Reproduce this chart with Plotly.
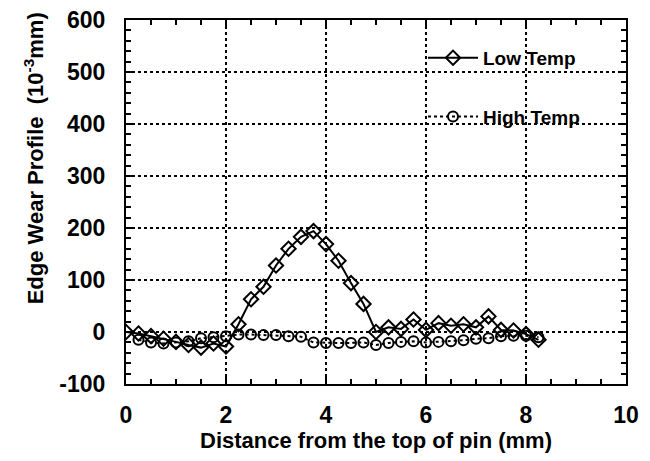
import plotly.graph_objects as go

x_low = [0, 0.25, 0.5, 0.75, 1.0, 1.25, 1.5, 1.75, 2.0, 2.25, 2.5, 2.75, 3.0, 3.25, 3.5, 3.75,
         4.0, 4.25, 4.5, 4.75, 5.0, 5.25, 5.5, 5.75, 6.0, 6.25, 6.5, 6.75, 7.0, 7.25, 7.5, 7.75,
         8.0, 8.25]
y_low = [0, -3, -8, -13, -19, -25, -30, -22, -28, 15, 63, 87, 128, 160, 183, 194,
         169, 137, 94, 54, 0, 9, 6, 24, 4, 17, 12, 15, 9, 30, 4, 3,
         -4, -15]

x_high = [0.25, 0.5, 0.75, 1.0, 1.25, 1.5, 1.75, 2.0, 2.25, 2.5, 2.75, 3.0, 3.25, 3.5, 3.75,
          4.0, 4.25, 4.5, 4.75, 5.0, 5.25, 5.5, 5.75, 6.0, 6.25, 6.5, 6.75, 7.0, 7.25, 7.5, 7.75,
          8.0, 8.25]
y_high = [-15, -20, -22, -20, -18, -12, -10, -8, -5, -5, -6, -6, -8, -9, -20,
          -21, -21, -21, -20, -25, -21, -19, -18, -20, -19, -18, -16, -13, -12, -8, -7,
          -7, -10]

x_ticks = [0, 2, 4, 6, 8, 10]
y_ticks = [-100, 0, 100, 200, 300, 400, 500, 600]

FONT = "Liberation Sans, Arial, Helvetica, sans-serif"

fig = go.Figure()
fig.add_trace(go.Scatter(
    x=x_low, y=y_low, mode="lines+markers", name="Low Temp", legendgroup="a",
    line=dict(color="black", width=2),
    marker=dict(symbol="diamond-open", size=11, color="black", line=dict(width=2)),
))
fig.add_trace(go.Scatter(
    x=x_high, y=y_high, mode="lines+markers", name="High Temp", legendgroup="b",
    line=dict(color="black", width=2, dash="dot"),
    marker=dict(symbol="circle-open", size=10, color="black", line=dict(width=2)),
))

axis_common = dict(
    showline=True, linecolor="black", linewidth=2, mirror="allticks",
    ticks="inside", ticklen=7, tickwidth=1.5, tickcolor="black",
    showgrid=True, gridcolor="black", gridwidth=1.5, griddash="dot",
    zeroline=False,
    tickfont=dict(family=FONT, size=23, color="black", weight="bold"),
)

fig.update_xaxes(
    range=[0, 10], tickvals=x_ticks, ticktext=[str(v) for v in x_ticks],
    minor=dict(dtick=0.5, ticks="inside", ticklen=5, tickcolor="black", showgrid=False),
    ticklabelstandoff=9,
    title=dict(text="Distance from the top of pin (mm)", standoff=6,
               font=dict(family=FONT, size=22, color="black", weight="bold")),
    **axis_common,
)
fig.update_yaxes(
    range=[-100, 600], tickvals=y_ticks, ticktext=[str(v) for v in y_ticks],
    minor=dict(dtick=20, ticks="inside", ticklen=5, tickcolor="black", showgrid=False),
    ticklabelstandoff=14,
    **axis_common,
)

fig.add_annotation(
    text="Edge Wear Profile  (10<sup>-3</sup>mm)", textangle=-90,
    xref="paper", yref="paper", x=-0.184, y=0.62, xanchor="center", yanchor="middle",
    showarrow=False, font=dict(family=FONT, size=22, color="black", weight="bold"),
)

fig.update_layout(
    width=650, height=461,
    margin=dict(l=126, r=24, t=20, b=77, autoexpand=False),
    paper_bgcolor="white", plot_bgcolor="white",
    showlegend=True,
    legend=dict(x=0.594, y=0.948, xanchor="left", yanchor="top",
                bgcolor="rgba(0,0,0,0)", borderwidth=0,
                traceorder="grouped", tracegroupgap=31, itemwidth=50,
                font=dict(family=FONT, size=19, color="black", weight="bold")),
)

fig.write_html("out.html", config={"displayModeBar": False},
               post_script="document.body.style.margin='0';document.body.style.overflow='hidden';")
